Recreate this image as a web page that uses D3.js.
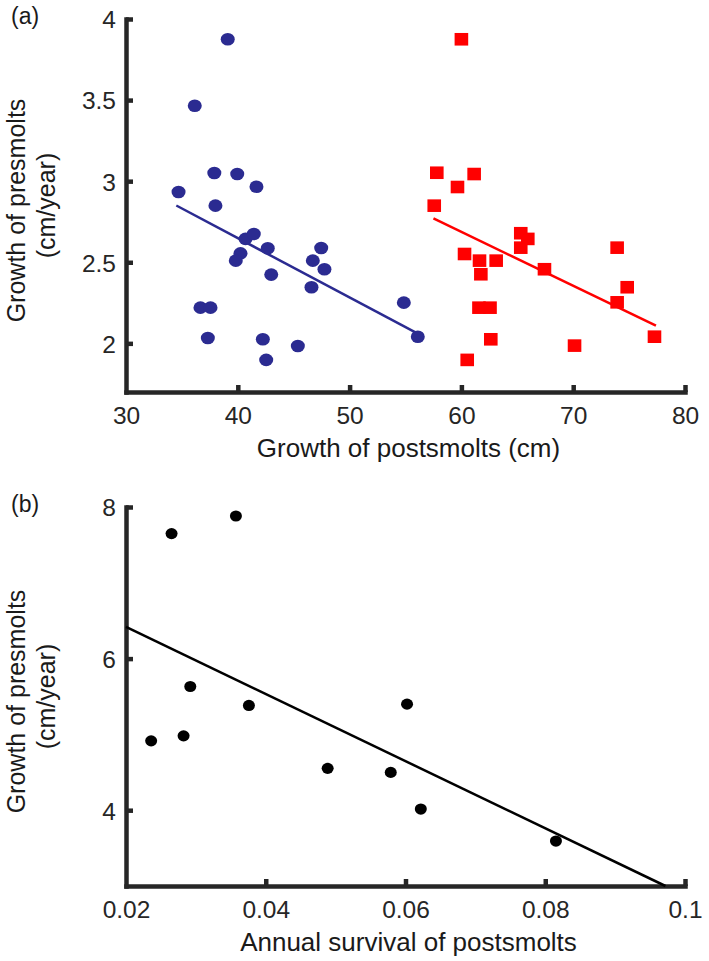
<!DOCTYPE html>
<html>
<head>
<meta charset="utf-8">
<script src="https://cdn.jsdelivr.net/npm/d3@7"></script>
<style>
  body { margin: 0; background: #fff; }
  svg { font-family: "Liberation Sans", Arial, Helvetica, sans-serif; }
  .axis path, .axis line { stroke: #262626; stroke-width: 4.5; }
  .axis path { stroke-linecap: square; }
  .axis text { fill: #262626; font-size: 24.5px; }
  .title { fill: #1a1a1a; font-size: 26px; }
  .ytitle { fill: #1a1a1a; font-size: 25px; }
</style>
</head>
<body>
<svg id="chart" width="709" height="961"></svg>
<script>
// panel (a): growth of postsmolts vs growth of presmolts
const blueX = [39.1, 36.15, 34.7, 37.9, 39.95, 41.67, 38.0, 40.69, 41.43, 40.24, 39.82, 42.68, 42.99,
  36.66, 37.56, 37.32, 42.24, 42.54, 45.37, 47.46, 46.71, 47.75, 46.59, 54.85, 56.1];
const blueY = [3.875, 3.465, 2.933, 3.05, 3.044, 2.966, 2.849, 2.644, 2.674, 2.555, 2.51, 2.586, 2.424,
  2.22, 2.22, 2.033, 2.025, 1.898, 1.984, 2.588, 2.51, 2.457, 2.346, 2.251, 2.041];
const redX = [60.0, 57.8, 61.14, 59.65, 57.57, 65.31, 65.94, 65.31, 60.28, 61.62, 63.11, 61.74, 67.43,
  73.93, 74.83, 73.93, 61.57, 62.56, 62.63, 60.52, 70.12, 77.27];
const redY = [3.875, 3.052, 3.044, 2.964, 2.849, 2.679, 2.644, 2.59, 2.551, 2.51, 2.51, 2.426, 2.457,
  2.59, 2.346, 2.253, 2.22, 2.22, 2.025, 1.898, 1.986, 2.041];
const blueFitX = [34.5, 56.1];
const blueFitY = [2.85, 2.06];
const redFitX = [57.5, 77.4];
const redFitY = [2.77, 2.11];
const aXTicks = [30, 40, 50, 60, 70, 80];
const aYTicks = [2, 2.5, 3, 3.5, 4];

// panel (b): annual survival of postsmolts vs growth of presmolts
const survX = [0.0236, 0.02824, 0.02652, 0.03573, 0.0292, 0.03759, 0.04886, 0.05789, 0.06022, 0.06219, 0.08153];
const survY = [4.915, 4.981, 7.649, 7.881, 5.632, 5.382, 4.552, 4.499, 5.399, 4.015, 3.593];
const survFitX = [0.02, 0.0972];
const survFitY = [6.418, 3.0];
const bXTicks = [0.02, 0.04, 0.06, 0.08, 0.1];
const bYTicks = [4, 6, 8];

const BLUE = "#2b2b91";
const RED = "#ff0000";

const svg = d3.select("#chart");

function panel({ top, bottom, xDomain, yDomain, xTicks, yTicks, xTitle, tag }) {
  const left = 126, right = 685;
  const x = d3.scaleLinear().domain(xDomain).range([left, right]);
  const y = d3.scaleLinear().domain(yDomain).range([bottom, top]);

  const xAxis = svg.append("g")
    .attr("class", "axis")
    .attr("transform", `translate(0, ${bottom})`)
    .call(d3.axisBottom(x).tickValues(xTicks).tickSizeInner(-7).tickSizeOuter(0).tickFormat((d) => d));
  xAxis.selectAll("text").attr("y", 32).attr("dy", null);
  // first x tick sits on the corner
  xAxis.selectAll(".tick line").filter((d) => d === xDomain[0]).remove();

  const yAxis = svg.append("g")
    .attr("class", "axis")
    .attr("transform", `translate(${left}, 0)`)
    .call(d3.axisLeft(y).tickValues(yTicks).tickSizeInner(-7).tickSizeOuter(0).tickFormat((d) => d));
  yAxis.selectAll("text").attr("x", -10).attr("dy", "0.36em");

  svg.append("text")
    .attr("class", "title")
    .attr("x", (left + right) / 2 + 3)
    .attr("y", bottom + 65)
    .attr("text-anchor", "middle")
    .text(xTitle);

  const mid = (top + bottom) / 2;
  svg.append("text")
    .attr("class", "ytitle")
    .attr("transform", `translate(25, ${mid + 5}) rotate(-90)`)
    .attr("text-anchor", "middle")
    .text("Growth of presmolts");
  svg.append("text")
    .attr("class", "ytitle")
    .attr("transform", `translate(55, ${mid}) rotate(-90)`)
    .attr("text-anchor", "middle")
    .text("(cm/year)");

  svg.append("text")
    .attr("x", 11)
    .attr("y", top + 5)
    .attr("fill", "#1a1a1a")
    .style("font-size", "23px")
    .text(tag);

  return { x, y };
}

const line = (sx, sy) => d3.line().x((d) => sx(d[0])).y((d) => sy(d[1]));

// ---- panel (a)
const a = panel({
  top: 19, bottom: 392,
  xDomain: [30, 80], yDomain: [1.7, 4],
  xTicks: aXTicks, yTicks: aYTicks,
  xTitle: "Growth of postsmolts (cm)", tag: "(a)",
});

svg.append("path")
  .datum(d3.zip(blueFitX, blueFitY))
  .attr("fill", "none").attr("stroke", BLUE).attr("stroke-width", 2.5)
  .attr("d", line(a.x, a.y));
svg.append("path")
  .datum(d3.zip(redFitX, redFitY))
  .attr("fill", "none").attr("stroke", RED).attr("stroke-width", 2.5)
  .attr("d", line(a.x, a.y));

svg.append("g")
  .selectAll("ellipse")
  .data(d3.zip(blueX, blueY))
  .join("ellipse")
  .attr("cx", (d) => a.x(d[0]))
  .attr("cy", (d) => a.y(d[1]))
  .attr("rx", 7)
  .attr("ry", 6.3)
  .attr("fill", BLUE);

svg.append("g")
  .selectAll("rect")
  .data(d3.zip(redX, redY))
  .join("rect")
  .attr("x", (d) => a.x(d[0]) - 6.8)
  .attr("y", (d) => a.y(d[1]) - 6.3)
  .attr("width", 13.6)
  .attr("height", 12.6)
  .attr("fill", RED);

// ---- panel (b)
const b = panel({
  top: 507, bottom: 886,
  xDomain: [0.02, 0.1], yDomain: [3, 8],
  xTicks: bXTicks, yTicks: bYTicks,
  xTitle: "Annual survival of postsmolts", tag: "(b)",
});

svg.append("path")
  .datum(d3.zip(survFitX, survFitY))
  .attr("fill", "none").attr("stroke", "#000").attr("stroke-width", 2.5)
  .attr("d", line(b.x, b.y));

svg.append("g")
  .selectAll("ellipse")
  .data(d3.zip(survX, survY))
  .join("ellipse")
  .attr("cx", (d) => b.x(d[0]))
  .attr("cy", (d) => b.y(d[1]))
  .attr("rx", 6)
  .attr("ry", 5.6)
  .attr("fill", "#000");
</script>
</body>
</html>
